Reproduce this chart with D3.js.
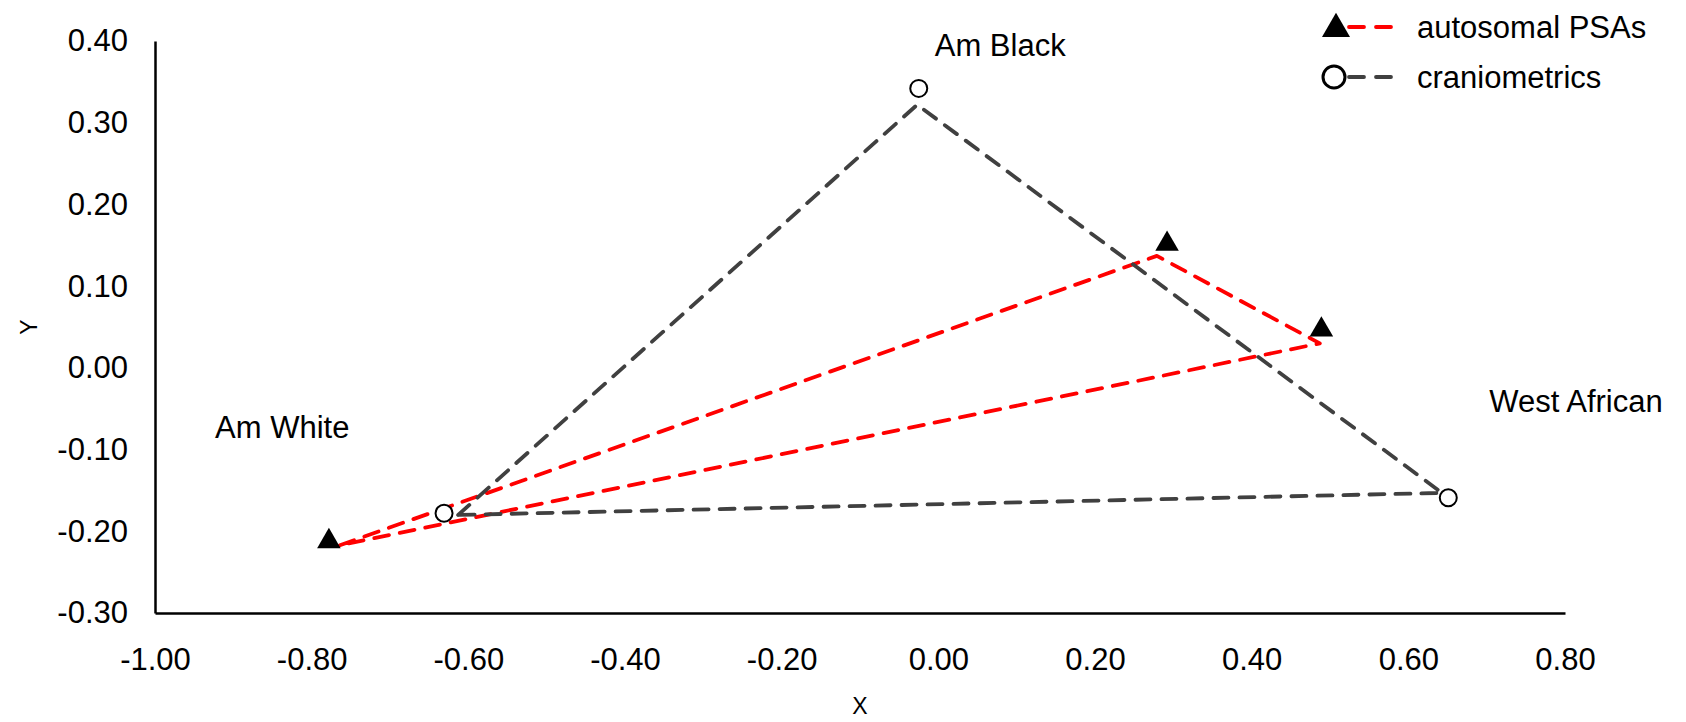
<!DOCTYPE html>
<html>
<head>
<meta charset="utf-8">
<script src="https://cdn.jsdelivr.net/npm/d3@7"></script>
<style>
  html, body { margin: 0; padding: 0; background: #fff; }
  svg { display: block; font-family: "Liberation Sans", Arial, sans-serif; }
</style>
</head>
<body>
<svg id="chart" width="1686" height="722"></svg>
<script>
// ---- data ----
const groups = ["Am White", "Am Black", "West African"];

// autosomal PSAs: marker positions and line vertices
const psaMarkerX = [-0.778, 0.292, 0.489];
const psaMarkerY = [-0.210, 0.154, 0.049];
const psaLineX   = [-0.764, 0.279, 0.487];
const psaLineY   = [-0.217, 0.137, 0.030];

// craniometrics: marker positions and line vertices
const cranMarkerX = [-0.631, -0.025, 0.651];
const cranMarkerY = [-0.178, 0.342, -0.159];
const cranLineX   = [-0.613, -0.027, 0.643];
const cranLineY   = [-0.180, 0.322, -0.153];

const seriesNames = ["autosomal PSAs", "craniometrics"];

const xTickValues = [-1.0, -0.8, -0.6, -0.4, -0.2, 0.0, 0.2, 0.4, 0.6, 0.8];
const xTickLabels = ["-1.00", "-0.80", "-0.60", "-0.40", "-0.20", "0.00", "0.20", "0.40", "0.60", "0.80"];
const yTickValues = [-0.3, -0.2, -0.1, 0.0, 0.1, 0.2, 0.3, 0.4];
const yTickLabels = ["-0.30", "-0.20", "-0.10", "0.00", "0.10", "0.20", "0.30", "0.40"];

const xTitle = "X";
const yTitle = "Y";

// ---- layout ----
const svg = d3.select("#chart");
const x = d3.scaleLinear().domain([-1.0, 0.8]).range([155, 1565]);
const y = d3.scaleLinear().domain([-0.3, 0.4]).range([613, 41]);

const RED = "#ff0000", GRAY = "#404040";
const tickFont = 31;

// axes
const xAxis = d3.axisBottom(x).tickValues(xTickValues)
  .tickFormat((d, i) => xTickLabels[i]).tickSize(0).tickPadding(35);
const yAxis = d3.axisLeft(y).tickValues(yTickValues)
  .tickFormat((d, i) => yTickLabels[i]).tickSize(0).tickPadding(27);

const gx = svg.append("g").attr("transform", `translate(0,${y(-0.3)})`).call(xAxis);
const gy = svg.append("g").attr("transform", `translate(${x(-1.0)},0)`).call(yAxis);
[gx, gy].forEach(g => {
  g.select(".domain").attr("stroke", "#000").attr("stroke-width", 2.5);
  g.selectAll("text").attr("font-size", tickFont).attr("fill", "#000")
    .attr("font-family", "'Liberation Sans', Arial, sans-serif");
});

// axis titles
svg.append("text").attr("x", (x.range()[0] + x.range()[1]) / 2).attr("y", 706)
  .attr("text-anchor", "middle").attr("dominant-baseline", "central")
  .attr("font-size", 23).text(xTitle);
svg.append("text").attr("transform", `translate(29,${(y.range()[0] + y.range()[1]) / 2}) rotate(-90)`)
  .attr("text-anchor", "middle").attr("dominant-baseline", "central")
  .attr("font-size", 23).text(yTitle);

// closed triangles of lines
function closedPath(xs, ys) {
  const pts = xs.map((v, i) => [x(v), y(ys[i])]);
  return d3.line()(pts) + "Z";
}
const dash = "15,11";
svg.append("path").attr("d", closedPath(psaLineX, psaLineY))
  .attr("fill", "none").attr("stroke", RED).attr("stroke-width", 3.8)
  .attr("stroke-dasharray", dash).attr("stroke-linecap", "round").attr("stroke-linejoin", "round");
svg.append("path").attr("d", closedPath(cranLineX, cranLineY))
  .attr("fill", "none").attr("stroke", GRAY).attr("stroke-width", 3.8)
  .attr("stroke-dasharray", dash).attr("stroke-linecap", "round").attr("stroke-linejoin", "round");

// markers
const triSym = d3.symbol().type(d3.symbolTriangle).size(240);
svg.selectAll(".tri").data(psaMarkerX).join("path")
  .attr("class", "tri")
  .attr("transform", (d, i) => `translate(${x(d)},${y(psaMarkerY[i]) + 2})`)
  .attr("d", triSym).attr("fill", "#000");
svg.selectAll(".circ").data(cranMarkerX).join("circle")
  .attr("class", "circ")
  .attr("cx", d => x(d)).attr("cy", (d, i) => y(cranMarkerY[i]))
  .attr("r", 8.5).attr("fill", "#fff").attr("stroke", "#000").attr("stroke-width", 2);

// group labels (placed relative to craniometric markers)
const labelOffsets = [[-229, -86], [16, -43], [41, -96]];
svg.selectAll(".glabel").data(groups).join("text")
  .attr("class", "glabel")
  .attr("x", (d, i) => x(cranMarkerX[i]) + labelOffsets[i][0])
  .attr("y", (d, i) => y(cranMarkerY[i]) + labelOffsets[i][1])
  .attr("dominant-baseline", "central")
  .attr("font-size", tickFont).attr("fill", "#000").text(d => d);

// legend
const legend = svg.append("g");
const legendRows = [
  { name: seriesNames[0], color: RED, marker: "tri", cy: 27 },
  { name: seriesNames[1], color: GRAY, marker: "circ", cy: 77 }
];
legendRows.forEach(r => {
  legend.append("line").attr("x1", 1349).attr("x2", 1394).attr("y1", r.cy).attr("y2", r.cy)
    .attr("stroke", r.color).attr("stroke-width", 3.8).attr("stroke-dasharray", "15,12")
    .attr("stroke-linecap", "round");
  if (r.marker === "tri") {
    legend.append("path").attr("transform", `translate(1336,${r.cy + 2})`)
      .attr("d", d3.symbol().type(d3.symbolTriangle).size(340)).attr("fill", "#000");
  } else {
    legend.append("circle").attr("cx", 1334).attr("cy", r.cy).attr("r", 11)
      .attr("fill", "#fff").attr("stroke", "#000").attr("stroke-width", 3);
  }
  legend.append("text").attr("x", 1417).attr("y", r.cy).attr("dominant-baseline", "central")
    .attr("font-size", tickFont).attr("fill", "#000").text(r.name);
});
</script>
</body>
</html>
